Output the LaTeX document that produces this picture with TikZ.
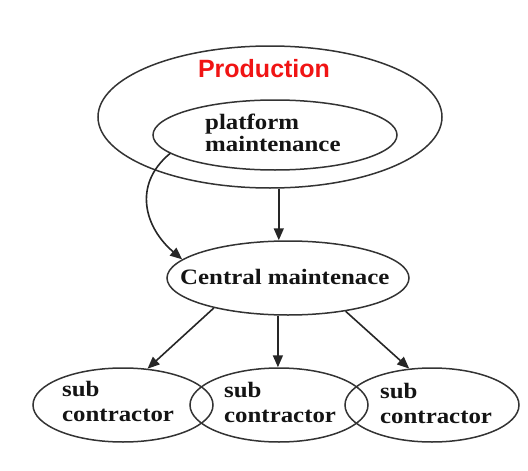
\documentclass[tikz,border=0pt]{standalone}
\usepackage{fontspec}
\newfontfamily\serifb{Liberation Serif}[FakeStretch=1.13]
\newfontfamily\sansb{Liberation Sans}
\usetikzlibrary{shapes.geometric,arrows.meta}
\begin{document}
\begin{tikzpicture}[x=1pt,y=-1pt,
  oval/.style={draw=black!80, line width=1.5pt, ellipse, inner sep=0pt},
  lbl/.style={font=\serifb\bfseries\fontsize{22}{22}\selectfont, align=left,
              inner sep=0pt, text=black!92},
  sublbl/.style={lbl, font=\serifb\bfseries\fontsize{22}{24.5}\selectfont},
  arr/.style={draw=black!85, line width=1.6pt, -{Triangle[length=12pt,width=10pt]}}]
\useasboundingbox (0,0) rectangle (528,471);

% ellipses
\node[oval, minimum width=344pt, minimum height=142pt] (prod)    at (270,117) {};
\node[oval, minimum width=244pt, minimum height=70pt]  (inner)   at (275,135) {};
\node[oval, minimum width=242pt, minimum height=74pt]  (central) at (288,278) {};
\node[oval, minimum width=180pt, minimum height=74pt]  (sub1)    at (123,405) {};
\node[oval, minimum width=178pt, minimum height=74pt]  (sub2)    at (279,405) {};
\node[oval, minimum width=174pt, minimum height=74pt]  (sub3)    at (432,405) {};

% labels (base anchor sits on the last line)
\node[anchor=base, inner sep=0pt, text={rgb,255:red,240;green,20;blue,20},
      font=\sansb\bfseries\fontsize{25}{25}\selectfont] (prodtxt) at (264,77) {Production};
\node[lbl, anchor=base west] (innertxt) at (205,151) {platform\\maintenance};
\node[lbl, anchor=base west] (centraltxt) at (180,284) {Central maintenace};
\node[sublbl, anchor=base west] (sub1txt) at (62,421) {sub\\contractor};
\node[sublbl, anchor=base west] (sub2txt) at (224,422) {sub\\contractor};
\node[sublbl, anchor=base west] (sub3txt) at (380,423) {sub\\contractor};

% connectors
\draw[arr] (prod.277) -- (prod.277 |- central.north);
\draw[arr] (inner.190) .. controls (132,185) and (145,228) .. (central.170);
\draw[arr] (central.202) -- (sub1.56);
\draw[arr] (central.255) -- (central.255 |- sub2.north);
\draw[arr] (central.330) -- (sub3.122);
\end{tikzpicture}
\end{document}
